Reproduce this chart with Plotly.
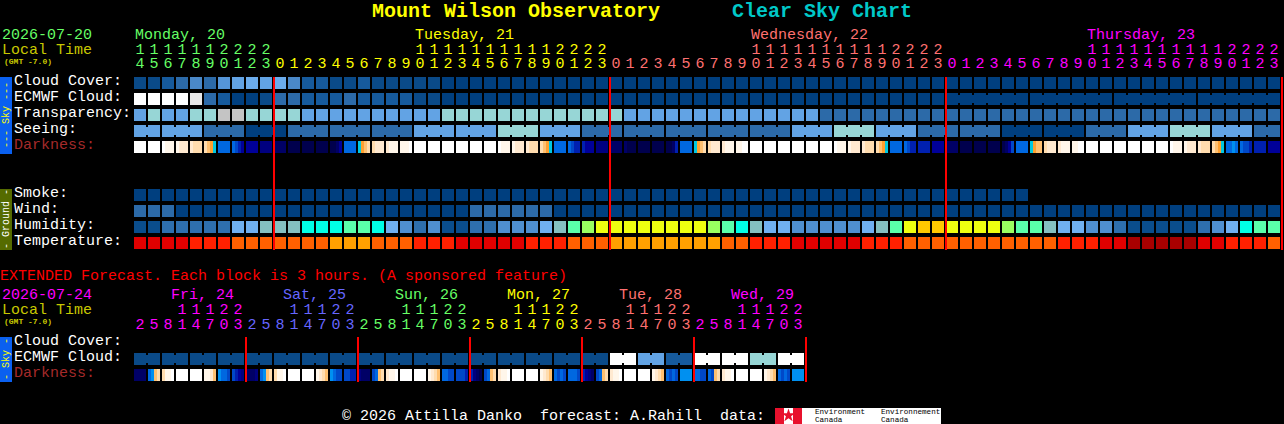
import plotly.graph_objects as go

FONT = "Liberation Mono"

# ---------- palettes ----------
sky_palette = ["#003f7f", "#0a4a88", "#165a9c", "#2c6aa8", "#4a88c8", "#5595d8",
               "#62a3e4", "#6bacec", "#97d6d6", "#c4c4c4", "#e8e8e8", "#ffffff"]
humid_palette = ["#0a4d8c", "#2e6fae", "#4f8fd0", "#70b0f0", "#84c0c0", "#00ffe6",
                 "#5affaa", "#99ff60", "#eeff10", "#ffc800"]
temp_palette = ["#a80000", "#e00000", "#ff2000", "#ff6000", "#ffa000"]
dark_palette = ["#ffffff", "#fff6ea", "#ffe9d0", "#ffdcae", "#ffc070", "#ffa030", "#00c8e0",
                "#0090f0", "#0068e0", "#0048c8", "#0020b0", "#000099", "#000080", "#000066",
                "#00004d", "#000038"]

# ---------- hourly forecast (82 hours) ----------
cloud_cover = [1, 1, 2, 3, 4, 3, 5, 6, 7, 6, 7, 4, 2, 2, 1, 1, 2, 1, 1, 1, 1, 1] + [0] * 60
ecmwf_cloud = [11, 11, 11, 11, 10, 3, 2, 0, 0, 1, 3, 3, 2, 2, 2, 3, 2, 2, 2, 2, 1, 1] + [0] * 60
ecmwf_links = [0] * 58 + [1, 1, 1, 1, 1, 0] * 4
transparency = [6, 8, 6, 6, 8, 8, 9, 9, 8, 8, 8, 8] + [6] * 10 + [8] * 13 + [6] * 14 + [3] * 33
seeing = ([6] * 2 + [6] * 3 + [3] * 3 + [0] * 3 + [3] * 3 + [3] * 3 + [3] * 3 + [6] * 3 + [6] * 3
          + [8] * 3 + [6] * 3 + [3] * 3 + [3] * 3 + [3] * 3 + [3] * 3 + [3] * 3 + [6] * 3 + [8] * 3
          + [6] * 3 + [3] * 3 + [3] * 3 + [0] * 3 + [0] * 3 + [3] * 3 + [6] * 3 + [8] * 3 + [6] * 3
          + [3] * 2)
seeing_groups = [2] + [3] * 26 + [2]
darkness = [
    [0, 0, 0, 0], [0, 0, 0, 0], [0, 1, 1, 1], [1, 2, 2, 2], [2, 3, 3, 3], [3, 4, 5, 6],
    [8, 8, 8, 8], [8, 9, 10, 11], [11, 11, 11, 11], [12, 12, 12, 12], [13, 13, 13, 13],
    [14, 14, 14, 14], [14, 14, 14, 14], [14, 14, 14, 14], [14, 14, 13, 11], [8, 8, 8, 8],
    [6, 5, 4, 3], [3, 2, 2, 2], [2, 1, 1, 1], [1, 1, 1, 0], [0, 0, 0, 0], [0, 0, 0, 0],
    [0, 0, 0, 0], [0, 0, 0, 0], [0, 0, 0, 0], [0, 0, 0, 0], [0, 1, 1, 1], [1, 2, 2, 2],
    [2, 3, 3, 3], [3, 4, 5, 6], [8, 8, 8, 8], [8, 9, 10, 10], [10, 11, 11, 11],
    [12, 12, 12, 12], [13, 13, 13, 13], [13, 14, 14, 14], [14, 14, 14, 14], [14, 14, 14, 14],
    [14, 14, 13, 10], [8, 8, 8, 8], [6, 5, 4, 3], [3, 2, 2, 2], [2, 1, 1, 1], [1, 1, 0, 0],
    [0, 0, 0, 0], [0, 0, 0, 0], [0, 0, 0, 0], [0, 0, 0, 0], [0, 0, 0, 0], [0, 0, 0, 0],
    [0, 1, 1, 1], [1, 2, 2, 2], [2, 3, 3, 3], [3, 4, 5, 6], [8, 8, 8, 8], [8, 9, 10, 10],
    [10, 10, 10, 10], [11, 11, 11, 11], [13, 13, 13, 13], [14, 14, 14, 14], [14, 14, 14, 14],
    [14, 14, 14, 14], [14, 13, 11, 9], [8, 8, 8, 8], [6, 5, 4, 4], [3, 2, 2, 2], [2, 1, 1, 1],
    [1, 1, 0, 0], [0, 0, 0, 0], [0, 0, 0, 0], [0, 0, 0, 0], [0, 0, 0, 0], [0, 0, 0, 0],
    [0, 0, 0, 0], [0, 1, 1, 1], [1, 2, 2, 2], [2, 3, 3, 3], [3, 4, 5, 6], [8, 8, 7, 8],
    [8, 9, 9, 10], [10, 10, 10, 10], [11, 11, 11, 11],
]
smoke = [0] * 64 + [None] * 18
wind = [3, 3, 3] + [0] * 21 + [3] * 6 + [0] * 52
humidity = [0, 0, 1, 1, 1, 1, 1, 3, 3, 4, 4, 4, 5, 5, 5, 6, 6, 5, 3, 2, 1, 2,
            0, 0, 1, 1, 2, 2, 2, 3, 4, 6, 7, 8, 8, 8, 8, 8, 8, 8, 8, 7, 6, 5, 4, 3, 3, 2, 2, 2, 2, 2,
            3, 4, 6, 8, 9, 9, 8, 8, 8, 8, 7, 6, 6, 4, 3, 3, 2, 2, 1, 0, 0, 0, 0, 0, 1, 2, 3, 5, 6, 6]
temperature = [1, 1, 1, 1, 2, 2, 2, 3, 3, 3, 3, 3, 3, 3, 4, 4, 4, 3, 3, 3, 2, 2,
               2, 1, 1, 1, 1, 1, 2, 2, 2, 3, 3, 3, 4, 4, 4, 4, 4, 4, 4, 4, 3, 3, 2, 2, 2, 1, 1, 1, 1, 1,
               2, 2, 2, 3, 3, 3, 3, 3, 3, 3, 3, 3, 3, 3, 2, 2, 2, 1, 1, 0, 0, 0, 0, 0, 1, 1, 2, 2, 2, 3]

hours_main = list(range(14, 24)) + list(range(24)) * 3
main_days = [("Monday, 20", 0, "#66ff66"), ("Tuesday, 21", 20, "#ffff00"),
             ("Wednesday, 22", 44, "#ff7070"), ("Thursday, 23", 68, "#ff00ff")]
main_day_starts = [0, 10, 34, 58]
main_midnights = [10, 34, 58, 82]

# ---------- extended forecast (48 blocks of 3 hours) ----------
ext_ecmwf = [1] * 34 + [11, 11, 6, 6, 2, 2, 11, 11, 11, 11, 8, 8, 11, 11]
ext_darkness = [
    [13, 13, 13, 13], [8, 7, 4, 3], [3, 1, 1, 0], [0, 0, 0, 0], [0, 0, 0, 0], [1, 1, 2, 4],
    [7, 8, 8, 9], [9, 10, 11, 12],
    [13, 13, 13, 12], [8, 7, 4, 3], [3, 1, 1, 0], [0, 0, 0, 0], [0, 0, 0, 0], [1, 2, 3, 4],
    [7, 8, 9, 9], [9, 9, 10, 10],
    [12, 13, 13, 13], [9, 8, 4, 3], [2, 1, 1, 0], [0, 0, 0, 0], [0, 0, 0, 0], [1, 2, 3, 4],
    [8, 8, 9, 9], [9, 9, 9, 10],
    [10, 12, 13, 14], [9, 8, 4, 3], [2, 1, 1, 0], [0, 0, 0, 0], [0, 0, 0, 0], [1, 2, 3, 4],
    [8, 9, 8, 9], [8, 8, 8, 9],
    [10, 11, 12, 13], [9, 8, 4, 3], [2, 1, 1, 0], [0, 0, 0, 0], [0, 0, 0, 0], [1, 2, 3, 4],
    [8, 9, 8, 9], [7, 7, 7, 7],
    [8, 8, 9, 9], [8, 9, 4, 3], [2, 1, 1, 0], [0, 0, 0, 0], [0, 0, 0, 0], [1, 2, 3, 4],
    [8, 9, 8, 9], [7, 7, 7, 7],
]
ext_day_hours = [2, 5, 8, 11, 14, 17, 20, 23]
ext_days = [("Fri, 24", "#ff00ff"), ("Sat, 25", "#6666ff"), ("Sun, 26", "#66ff66"),
            ("Mon, 27", "#ffff00"), ("Tue, 28", "#ff7070"), ("Wed, 29", "#ff00ff")]

# ---------- text ----------
row_labels = [("Cloud Cover:", 81, "#ffffff"), ("ECMWF Cloud:", 97, "#ffffff"),
              ("Transparency:", 113, "#ffffff"), ("Seeing:", 129, "#ffffff"),
              ("Darkness:", 145, "#a52a2a"), ("Smoke:", 193, "#ffffff"), ("Wind:", 209, "#ffffff"),
              ("Humidity:", 225, "#ffffff"), ("Temperature:", 241, "#ffffff"),
              ("Cloud Cover:", 341, "#ffffff"), ("ECMWF Cloud:", 357, "#ffffff"),
              ("Darkness:", 373, "#a52a2a")]

# ---------- layout geometry ----------
X0, PITCH, W = 134, 14, 12
MAIN_ROWS = {"cloud": 77, "ecmwf": 93, "transp": 109, "seeing": 125, "dark": 141,
             "smoke": 189, "wind": 205, "humid": 221, "temp": 237}
EXT_ROWS = {"ecmwf": 353, "dark": 369}


def scale(palette):
    n = len(palette) - 1
    return [[i / n, c] for i, c in enumerate(palette)]


def bars(x, width, top, height, values, palette):
    keep = [i for i, v in enumerate(values) if v is not None]
    return go.Bar(x=[x[i] for i in keep], y=[height] * len(keep), base=[top] * len(keep),
                  width=[width] * len(keep), hoverinfo="skip", showlegend=False,
                  marker=dict(color=[values[i] for i in keep], colorscale=scale(palette), cmin=0,
                              cmax=len(palette) - 1, showscale=False, line=dict(width=0)))


def block_row(values, top, palette):
    return bars([X0 + PITCH * i + W / 2 for i in range(len(values))], W, top, W, values, palette)


def neck_row(values, links, top, palette):
    vals = [v if links[i] else None for i, v in enumerate(values)]
    return bars([X0 + PITCH * i + W + 1 for i in range(len(values))], 2, top + 2, 8, vals, palette)


def sub_row(rows, top, palette):
    xs, vals = [], []
    for i, subs in enumerate(rows):
        step = W / len(subs)
        for j, v in enumerate(subs):
            xs.append(X0 + PITCH * i + (j + 0.5) * step)
            vals.append(v)
    return bars(xs, W / len(rows[0]), top, W, vals, palette)


def group_links(groups):
    out = []
    for g in groups:
        out += [1] * (g - 1) + [0]
    return out


fig = go.Figure()
fig.add_trace(block_row(cloud_cover, MAIN_ROWS["cloud"], sky_palette))
fig.add_trace(block_row(ecmwf_cloud, MAIN_ROWS["ecmwf"], sky_palette))
fig.add_trace(neck_row(ecmwf_cloud, ecmwf_links, MAIN_ROWS["ecmwf"], sky_palette))
fig.add_trace(block_row(transparency, MAIN_ROWS["transp"], sky_palette))
fig.add_trace(block_row(seeing, MAIN_ROWS["seeing"], sky_palette))
fig.add_trace(neck_row(seeing, group_links(seeing_groups), MAIN_ROWS["seeing"], sky_palette))
fig.add_trace(sub_row(darkness, MAIN_ROWS["dark"], dark_palette))
fig.add_trace(block_row(smoke, MAIN_ROWS["smoke"], sky_palette))
fig.add_trace(block_row(wind, MAIN_ROWS["wind"], sky_palette))
fig.add_trace(block_row(humidity, MAIN_ROWS["humid"], humid_palette))
fig.add_trace(block_row(temperature, MAIN_ROWS["temp"], temp_palette))
fig.add_trace(block_row(ext_ecmwf, EXT_ROWS["ecmwf"], sky_palette))
fig.add_trace(neck_row(ext_ecmwf, [1, 0] * 24, EXT_ROWS["ecmwf"], sky_palette))
fig.add_trace(sub_row(ext_darkness, EXT_ROWS["dark"], dark_palette))

# midnight marks
fig.add_trace(go.Bar(x=[X0 + PITCH * c for c in main_midnights], y=[173] * 4, base=[77] * 4,
                     width=[2] * 4, marker=dict(color="#ff0000", line=dict(width=0)),
                     hoverinfo="skip", showlegend=False))
fig.add_trace(go.Bar(x=[X0 + PITCH * c for c in range(8, 56, 8)], y=[45] * 6, base=[337] * 6,
                     width=[2] * 6, marker=dict(color="#ff0000", line=dict(width=0)),
                     hoverinfo="skip", showlegend=False))


def texts(items, size=15, bold=False, position="middle right", family=FONT):
    """items: (x, y, text, colour)"""
    return go.Scatter(
        x=[i[0] for i in items], y=[i[1] for i in items], text=[i[2] for i in items],
        mode="text", textposition=position, hoverinfo="skip", showlegend=False,
        textfont=dict(family=family, size=size, color=[i[3] for i in items],
                      weight="bold" if bold else "normal"))


# title
fig.add_trace(texts([(372, 12, "Mount Wilson Observatory", "#ffff00"),
                     (732, 12, "Clear Sky Chart", "#00c8c8")], size=20, bold=True))

# left headers and labels
head = [(2, 35, "2026-07-20", "#66ff66"), (2, 50, "Local Time", "#c8c800"),
        (2, 295, "2026-07-24", "#ff00ff"), (2, 310, "Local Time", "#c8c800"),
        (0, 276, "EXTENDED Forecast. Each block is 3 hours. (A sponsored feature)", "#ff0000"),
        (342, 416, "\u00a9 2026 Attilla Danko  forecast: A.Rahill  data:", "#ffffff")]
head += [(14, y, t, c) for t, y, c in row_labels]
head += [(134 + 1 + PITCH * col, 35, t, c) for t, col, c in main_days]
for d, (t, c) in enumerate(ext_days):
    head.append((171 + 112 * d, 295, t, c))
fig.add_trace(texts(head))
fig.add_trace(texts([(4, 62, "(GMT -7.0)", "#c8c800"), (4, 322, "(GMT -7.0)", "#c8c800")],
                    size=8, bold=True))

# hour digits
digits = []
for i, h in enumerate(hours_main):
    d = sum(1 for s in main_day_starts if s <= i) - 1
    col = main_days[d][2]
    cx = X0 + PITCH * i + W / 2
    if h >= 10:
        digits.append((cx, 50, str(h // 10), col))
    digits.append((cx, 64.5, str(h % 10), col))
for i in range(48):
    h = ext_day_hours[i % 8]
    col = ext_days[i // 8][1]
    cx = X0 + PITCH * i + W / 2
    if h >= 10:
        digits.append((cx, 310, str(h // 10), col))
    digits.append((cx, 325, str(h % 10), col))
fig.add_trace(texts(digits, position="middle center"))

# canada credit
fig.add_trace(texts([(815, 412, "Environment", "#000000"), (815, 420, "Canada", "#000000"),
                     (881, 412, "Environnement", "#000000"), (881, 420, "Canada", "#000000")], size=7.6))
fig.add_trace(go.Scatter(x=[788.5], y=[415.5], mode="markers", hoverinfo="skip", showlegend=False,
                         marker=dict(symbol="star", size=10, color="#e8112d")))

shapes = []


def rect(x0, y0, x1, y1, color, layer="below"):
    shapes.append(dict(type="rect", x0=x0, y0=y0, x1=x1, y1=y1, layer=layer,
                       fillcolor=color, line=dict(width=0)))


rect(0, 77, 12, 154, "#0a60f0")
rect(0, 189, 12, 250, "#556b00")
rect(0, 337, 12, 382, "#0a60f0")
rect(775, 408, 941, 424, "#ffffff")
rect(775, 408, 784, 424, "#e8112d")
rect(793, 408, 802, 424, "#e8112d")

side = [("--- Sky ---", 115, "#ffff00"), ("- Ground -", 219, "#ffffff"), ("- Sky -", 359, "#ffff00")]
annotations = [dict(x=6, y=y, text=t, textangle=-90, showarrow=False, xanchor="center", yanchor="middle",
                    font=dict(family=FONT, size=10, color=c)) for t, y, c in side]

fig.update_layout(
    width=1284, height=424, autosize=False, margin=dict(l=0, r=0, t=0, b=0),
    paper_bgcolor="#000000", plot_bgcolor="#000000", showlegend=False, barmode="overlay",
    xaxis=dict(range=[0, 1284], visible=False, fixedrange=True),
    yaxis=dict(range=[424, 0], visible=False, fixedrange=True),
    shapes=shapes, annotations=annotations,
)
fig.write_html("out.html", config={"displayModeBar": False, "responsive": False},
               post_script="document.body.style.margin='0';document.body.style.overflow='hidden';")
